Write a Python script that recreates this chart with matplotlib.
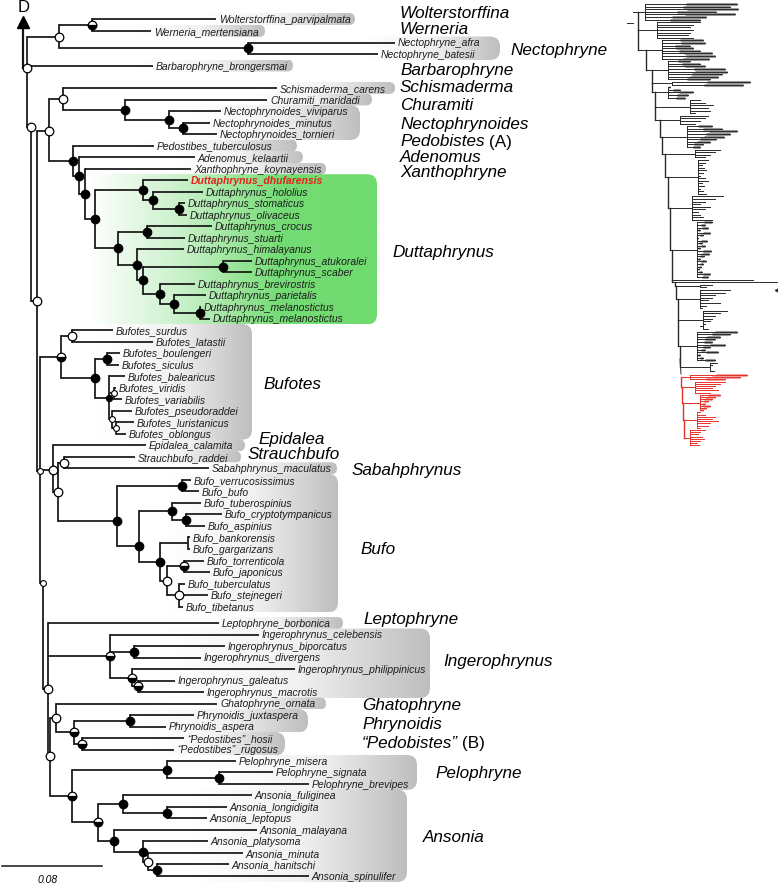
import numpy as np
import matplotlib
matplotlib.use("Agg")
import matplotlib.pyplot as plt
from matplotlib.patches import FancyBboxPatch
from matplotlib.colors import LinearSegmentedColormap

plt.rcParams['font.family'] = ['Liberation Sans', 'DejaVu Sans']

# ---------------- tips (label, row y, branch end x) ----------------
tip_labels = [
    'Wolterstorffina_parvipalmata', 'Werneria_mertensiana', 'Nectophryne_afra',
    'Nectophryne_batesii', 'Barbarophryne_brongersmai', 'Schismaderma_carens',
    'Churamiti_maridadi', 'Nectophrynoides_viviparus', 'Nectophrynoides_minutus',
    'Nectophrynoides_tornieri', 'Pedostibes_tuberculosus', 'Adenomus_kelaartii',
    'Xanthophryne_koynayensis', 'Duttaphrynus_dhufarensis', 'Duttaphrynus_hololius',
    'Duttaphrynus_stomaticus', 'Duttaphrynus_olivaceus', 'Duttaphrynus_crocus',
    'Duttaphrynus_stuarti', 'Duttaphrynus_himalayanus', 'Duttaphrynus_atukoralei',
    'Duttaphrynus_scaber', 'Duttaphrynus_brevirostris', 'Duttaphrynus_parietalis',
    'Duttaphrynus_melanostictus', 'Duttaphrynus_melanostictus#2',
    'Bufotes_surdus', 'Bufotes_latastii', 'Bufotes_boulengeri', 'Bufotes_siculus',
    'Bufotes_balearicus', 'Bufotes_viridis', 'Bufotes_variabilis',
    'Bufotes_pseudoraddei', 'Bufotes_luristanicus', 'Bufotes_oblongus',
    'Epidalea_calamita', 'Strauchbufo_raddei', 'Sabahphrynus_maculatus',
    'Bufo_verrucosissimus', 'Bufo_bufo', 'Bufo_tuberospinius', 'Bufo_cryptotympanicus',
    'Bufo_aspinius', 'Bufo_bankorensis', 'Bufo_gargarizans', 'Bufo_torrenticola',
    'Bufo_japonicus', 'Bufo_tuberculatus', 'Bufo_stejnegeri', 'Bufo_tibetanus',
    'Leptophryne_borbonica', 'Ingerophrynus_celebensis', 'Ingerophrynus_biporcatus',
    'Ingerophrynus_divergens', 'Ingerophrynus_philippinicus', 'Ingerophrynus_galeatus',
    'Ingerophrynus_macrotis', 'Ghatophryne_ornata', 'Phrynoidis_juxtaspera',
    'Phrynoidis_aspera', '\u201cPedostibes\u201d_hosii', '\u201cPedostibes\u201d_rugosus',
    'Pelophryne_misera', 'Pelophryne_signata', 'Pelophryne_brevipes',
    'Ansonia_fuliginea', 'Ansonia_longidigita', 'Ansonia_leptopus', 'Ansonia_malayana',
    'Ansonia_platysoma', 'Ansonia_minuta', 'Ansonia_hanitschi', 'Ansonia_spinulifer',
]
tip_y = [20, 32, 43.5, 55, 66.5, 89, 100.5, 112, 123.6, 135.1, 146.6, 158.1, 169.7,
         181.2, 192.7, 204.2, 215.8, 227.3, 238.8, 250.3, 261.9, 273.4, 284.9, 296.4,
         308, 319.5, 331, 342.5, 354, 365.6, 377.1, 388.6, 400.1, 411.7, 423.2, 434.7,
         446.2, 457.8, 469.3, 480.8, 492.3, 503.8, 515.4, 526.9, 538.4, 549.9, 561.5,
         573, 584.5, 596, 607.5, 624, 635.5, 647, 658.5, 670, 681.5, 693, 704.5, 716,
         727.5, 739, 750.5, 762, 773.5, 785, 796.5, 808, 819.5, 831, 842.5, 854, 865.5,
         877]
tip_x = [216, 151, 395, 378, 153, 277, 267, 221, 210, 217, 154, 195, 191,
         188, 203, 185, 187, 212, 185, 184, 252, 252, 195, 206, 201, 210,
         113, 153, 120, 119, 125, 116, 122, 132, 134, 126,
         146, 135, 209, 191, 199, 201, 222, 205, 190, 190, 204, 210, 185, 208, 183,
         219, 259, 225, 201, 295, 175, 204, 217, 194, 166, 184, 174,
         236, 273, 309, 252, 227, 207, 257, 208, 243, 229, 309]
highlight_tip = 'Duttaphrynus_dhufarensis'

# ---------------- internal nodes: name -> (x, children, support, fixed y) ----------------
nodes = {
    'R':   (23, ['a'], '', 69),
    'a':   (27, ['C1', 'Barbarophryne_brongersmai', 'b'], 'o', 69),
    'b':   (31, ['d'], 'o', 128),
    'd':   (37, ['c', 'e'], 'o', 302),
    'e':   (40, ['BT', 'EP', 'f'], 's', 472),
    'f':   (43, ['g'], 's', 584),
    'g':   (48, ['Leptophryne_borbonica', 'IN', 'h'], 'o', 690),
    'h':   (50, ['GH', 'PA2'], 'o', 757),
    'C1':  (59, ['W1', 'NE'], 'o', None),
    'W1':  (92, ['Wolterstorffina_parvipalmata', 'Werneria_mertensiana'], 'h', None),
    'NE':  (248, ['Nectophryne_afra', 'Nectophryne_batesii'], 'f', None),
    'c':   (49, ['SC', 'PA'], 'o', 132),
    'SC':  (63, ['Schismaderma_carens', 'CN'], 'o', None),
    'CN':  (125, ['Churamiti_maridadi', 'NN'], 'f', None),
    'NN':  (169, ['Nectophrynoides_viviparus', 'NN2'], 'f', None),
    'NN2': (183, ['Nectophrynoides_minutus', 'Nectophrynoides_tornieri'], 'f', None),
    'PA':  (73, ['Pedostibes_tuberculosus', 'AX'], 'f', None),
    'AX':  (79, ['Adenomus_kelaartii', 'XD'], 'f', None),
    'XD':  (85, ['Xanthophryne_koynayensis', 'DU'], 'f', None),
    'DU':  (95, ['D1', 'D2'], 'f', None),
    'D1':  (143, ['Duttaphrynus_dhufarensis', 'D1b'], 'f', None),
    'D1b': (153, ['Duttaphrynus_hololius', 'D1c'], 'f', None),
    'D1c': (179, ['Duttaphrynus_stomaticus', 'Duttaphrynus_olivaceus'], 'f', None),
    'D2':  (118, ['D2a', 'D2b'], 'f', None),
    'D2a': (147, ['Duttaphrynus_crocus', 'Duttaphrynus_stuarti'], 'f', None),
    'D2b': (137, ['Duttaphrynus_himalayanus', 'D2c'], 'f', None),
    'D2c': (143, ['D2d', 'D2e'], 'f', None),
    'D2d': (223, ['Duttaphrynus_atukoralei', 'Duttaphrynus_scaber'], 'f', None),
    'D2e': (160, ['Duttaphrynus_brevirostris', 'D2f'], 'f', None),
    'D2f': (174, ['Duttaphrynus_parietalis', 'D2g'], 'f', None),
    'D2g': (200, ['Duttaphrynus_melanostictus', 'Duttaphrynus_melanostictus#2'], 'f', None),
    'BT':  (61, ['BT1', 'BT2'], 'h', None),
    'BT1': (72, ['Bufotes_surdus', 'Bufotes_latastii'], 'o', None),
    'BT2': (95, ['BT3', 'BT4'], 'f', None),
    'BT3': (107, ['Bufotes_boulengeri', 'Bufotes_siculus'], 'f', None),
    'BT4': (109, ['Bufotes_balearicus', 'BT5', 'BT6'], 'F', None),
    'BT5': (114, ['Bufotes_viridis', 'Bufotes_variabilis'], 's', None),
    'BT6': (112, ['Bufotes_pseudoraddei', 'BT7'], 's', None),
    'BT7': (116, ['Bufotes_luristanicus', 'Bufotes_oblongus'], 's', None),
    'EP':  (53, ['Epidalea_calamita', 'EB'], 'o', 471),
    'EB':  (58, ['SS', 'BU'], 'o', 493),
    'SS':  (64, ['Strauchbufo_raddei', 'Sabahphrynus_maculatus'], 'o', None),
    'BU':  (117, ['B1', 'B2'], 'f', 522),
    'B1':  (182, ['Bufo_verrucosissimus', 'Bufo_bufo'], 'f', None),
    'B2':  (139, ['B3', 'B4'], 'f', 547),
    'B3':  (172, ['Bufo_tuberospinius', 'B5'], 'f', None),
    'B5':  (186, ['Bufo_cryptotympanicus', 'Bufo_aspinius'], 'f', None),
    'B4':  (160, ['B6', 'B7'], 'f', None),
    'B6':  (188, ['Bufo_bankorensis', 'Bufo_gargarizans'], '', None),
    'B7':  (167, ['B8', 'B9'], 'o', None),
    'B8':  (184, ['Bufo_torrenticola', 'Bufo_japonicus'], 'h', None),
    'B9':  (179, ['Bufo_tuberculatus', 'Bufo_stejnegeri', 'Bufo_tibetanus'], 'o', None),
    'IN':  (110, ['Ingerophrynus_celebensis', 'I1', 'I2'], 'h', None),
    'I1':  (134, ['Ingerophrynus_biporcatus', 'Ingerophrynus_divergens'], 'f', None),
    'I2':  (132, ['Ingerophrynus_philippinicus', 'I3'], 'h', None),
    'I3':  (138, ['Ingerophrynus_galeatus', 'Ingerophrynus_macrotis'], 'h', None),
    'GH':  (56, ['Ghatophryne_ornata', 'G1'], 'o', None),
    'G1':  (74, ['PH', 'PB'], 'h', None),
    'PH':  (130, ['Phrynoidis_juxtaspera', 'Phrynoidis_aspera'], 'f', None),
    'PB':  (82, ['\u201cPedostibes\u201d_hosii', '\u201cPedostibes\u201d_rugosus'], 'h', None),
    'PA2': (72, ['PE', 'AN'], 'h', None),
    'PE':  (167, ['Pelophryne_misera', 'PE2'], 'f', None),
    'PE2': (219, ['Pelophryne_signata', 'Pelophryne_brevipes'], 'f', None),
    'AN':  (98, ['A1', 'A3'], 'h', None),
    'A1':  (123, ['Ansonia_fuliginea', 'A2'], 'f', None),
    'A2':  (167, ['Ansonia_longidigita', 'Ansonia_leptopus'], 'f', None),
    'A3':  (114, ['Ansonia_malayana', 'A4'], 'f', None),
    'A4':  (143, ['Ansonia_platysoma', 'A5'], 'f', None),
    'A5':  (148, ['Ansonia_minuta', 'A6'], 'o', None),
    'A6':  (157, ['Ansonia_hanitschi', 'Ansonia_spinulifer'], 'f', None),
}

# ---------------- genus groups: first tip, last tip, box right edge ----------------
group_names = ['Wolterstorffina', 'Werneria', 'Nectophryne', 'Barbarophryne', 'Schismaderma',
               'Churamiti', 'Nectophrynoides', 'Pedobistes', 'Adenomus', 'Xanthophryne',
               'Duttaphrynus', 'Bufotes', 'Epidalea', 'Strauchbufo', 'Sabahphrynus', 'Bufo',
               'Leptophryne', 'Ingerophrynus', 'Ghatophryne', 'Phrynoidis',
               '\u201cPedobistes\u201d', 'Pelophryne', 'Ansonia']
group_suffix = ['', '', '', '', '', '', '', '(A)', '', '', '', '', '', '', '', '',
                '', '', '', '', '(B)', '', '']
group_first = [0, 1, 2, 4, 5, 6, 7, 10, 11, 12, 13, 26, 36, 37, 38, 39, 51, 52, 58, 59, 61, 63, 66]
group_last = [0, 1, 3, 4, 5, 6, 9, 10, 11, 12, 25, 35, 36, 37, 38, 50, 51, 57, 58, 60, 62, 65, 73]
group_box_right = [355, 265, 500, 293, 395, 372, 360, 297, 303, 326, 377, 252, 245, 241,
                   337, 338, 343, 430, 326, 308, 285, 417, 407]
group_label_x = [400, 400, 510, 400, 400, 400, 400, 400, 400, 400, 392, 263, 258, 248,
                 352, 360, 363, 443, 362, 362, 362, 435, 423]
group_label_y = [14, 30, 50, 71, 88, 106, 125, 142, 157, 173, 253, 385, 440, 455,
                 471, 550, 620, 662, 706, 725, 744, 774, 838]

# ---------------- overview tree (right): stem x, node x, tip ends, highlight ----------------
mini_stem = [633, 638, 638, 646, 652, 652, 655, 655, 660, 662, 665, 668, 670, 672, 672,
             675, 676, 678, 678, 680]
mini_node = [645, 657, 662, 668, 672, 668, 690, 680, 687, 695, 698, 692, 697, 680, 690,
             700, 700, 703, 697, 710]
mini_tips = [
    [737, 730, 738, 716, 735, 706, 700],
    [700, 693, 690, 693, 690, 688, 693],
    [703, 705, 690, 693, 700, 712, 715, 709],
    [690, 700, 705, 725, 727, 722, 718, 710],
    [750, 743],
    [670, 680, 693, 688, 685],
    [700, 705, 713, 708, 710, 695],
    [708, 705, 700, 695],
    [712, 722, 737, 730, 724, 716, 710, 703, 700],
    [720, 715, 710, 705],
    [708, 705, 702, 704, 706, 703, 700, 705, 708, 702, 704, 700, 703, 706],
    [723, 715, 705, 700, 710, 705, 698, 700, 703, 712],
    [712, 705, 708, 700, 710, 703, 698, 707, 702, 705, 700, 711, 709, 704, 700, 706,
     703, 701, 699, 702, 710, 708],
    [753],
    [777],
    [712, 706],
    [730, 725, 715, 712, 708, 720, 706, 702],
    [727, 720, 715, 712, 710, 705, 700, 708],
    [737, 730, 720, 715, 712, 725, 710, 705, 718, 700, 703, 715],
    [717, 712, 710, 714],
]
mini_hl = [1, 0, 1, 1, 1, 1, 0, 0, 1, 0, 0, 0, 1, 0, 0, 0, 0, 0, 1, 0]
red_stem = [681, 681, 682, 683, 684]
red_node = [690, 695, 700, 697, 690]
red_tips = [
    [747, 740, 725],
    [725, 720, 715, 712, 718, 710],
    [720, 715, 712, 708, 705, 710, 706, 703],
    [700, 705, 715, 712, 718, 710, 708, 700],
    [705, 700, 698, 702, 704, 700, 697, 699],
]
red_hl = [1, 0, 1, 0, 0]

scale_value = 0.08
px_per_unit = 1250

# ---------------- figure ----------------
fig = plt.figure(figsize=(7.78, 8.87), dpi=100)
ax = fig.add_axes([0, 0, 1, 1])
LC = '#151515'
LW = 1.25

tip_pos = {lab: (x, y) for lab, x, y in zip(tip_labels, tip_x, tip_y)}
node_pos = {}


def node_y(name):
    if name in tip_pos:
        return tip_pos[name][1]
    if name in node_pos:
        return node_pos[name][1]
    x, children, _, fixed = nodes[name]
    ys = [node_y(c) for c in children]
    y = fixed if fixed is not None else (min(ys) + max(ys)) / 2
    node_pos[name] = (x, y)
    return y


for n in nodes:
    node_y(n)

# branches
for n, (x, children, sup, _) in nodes.items():
    y = node_pos[n][1]
    cys = [node_y(c) for c in children]
    ax.plot([x, x], [min(cys + [y]), max(cys + [y])], color=LC, lw=LW,
            solid_capstyle='projecting', zorder=3)
    for c in children:
        cx = tip_pos[c][0] if c in tip_pos else node_pos[c][0]
        ax.plot([x, cx], [node_y(c)] * 2, color=LC, lw=LW, solid_capstyle='butt', zorder=3)

# root arrow
rx, ry = node_pos['R']
ax.plot([rx, rx], [ry, 24], color=LC, lw=1.6, zorder=3)
ax.plot(rx, 23, marker='^', ms=9, color='black', zorder=4)
ax.text(rx + 1, 8, 'D', fontsize=12, ha='center', va='center')

# support markers
for n, (x, children, sup, _) in nodes.items():
    y = node_pos[n][1]
    if sup == 'f':
        ax.plot(x, y, 'o', ms=6.2, mfc='black', mec='black', mew=0.8, zorder=6)
    elif sup == 'F':
        ax.plot(x, y, 'o', ms=4.5, mfc='black', mec='black', mew=0.8, zorder=6)
    elif sup == 'o':
        ax.plot(x, y, 'o', ms=6.2, mfc='white', mec='black', mew=0.9, zorder=6)
    elif sup == 's':
        ax.plot(x, y, 'o', ms=4.2, mfc='white', mec='black', mew=0.8, zorder=6)
    elif sup == 'h':
        ax.plot(x, y, 'o', ms=6.2, fillstyle='bottom', mfc='black', mfcalt='white',
                mec='black', mew=0.9, zorder=6)

# tip labels
for lab, x, y in zip(tip_labels, tip_x, tip_y):
    txt = lab.split('#')[0]
    if lab == highlight_tip:
        ax.text(x + 3, y, txt, fontsize=7.5, style='italic', weight='bold',
                color='#e2231a', va='center', zorder=7)
    else:
        ax.text(x + 3, y, txt, fontsize=7.5, style='italic', color='#1e1e1e',
                va='center', zorder=7)

# genus boxes
gray_cmap = LinearSegmentedColormap.from_list('g', ['#ffffff', '#f2f2f2', '#bebebe'])
green_cmap = LinearSegmentedColormap.from_list('gr', ['#ffffff', '#c6f0c6', '#74dc74', '#6fdb6f'])
for i, name in enumerate(group_names):
    y0 = tip_y[group_first[i]] - 6
    y1 = tip_y[group_last[i]] + 6
    x1 = group_box_right[i]
    green = name == 'Duttaphrynus'
    x0 = 90 if green else min(tip_x[group_first[i]:group_last[i] + 1]) - 15
    r = min(10, (y1 - y0) / 2)
    grad = np.linspace(0, 1, 256)[None, :]
    im = ax.imshow(grad, extent=(x0, x1, y1, y0), cmap=green_cmap if green else gray_cmap,
                   vmin=0, vmax=1, aspect='auto', zorder=0.5, interpolation='bilinear')
    box = FancyBboxPatch((x0, y0), x1 - x0, y1 - y0,
                         boxstyle='round,pad=0,rounding_size=%g' % r,
                         facecolor='none', edgecolor='none', transform=ax.transData)
    ax.add_patch(box)
    im.set_clip_path(box)

    t = ax.text(group_label_x[i], group_label_y[i], name, fontsize=12.3, style='italic',
                va='center', zorder=7)
    if group_suffix[i]:
        ax.annotate(group_suffix[i], xy=(1, 0.5), xycoords=t, xytext=(3, 0),
                    textcoords='offset points', fontsize=12.3, va='center')

# scale bar
ax.plot([2, 2 + scale_value * px_per_unit], [867, 867], color=LC, lw=1.1)
ax.text(2 + scale_value * px_per_unit / 2 - 4, 880, '%.2f' % scale_value, fontsize=7.5,
        style='italic', ha='center', va='center')

# overview tree
MLW = 0.7


def draw_mini(stems, nodes_x, tips, hls, y_start, pitch, color, hl_color):
    row = 0
    prev = None
    for sx, nx, ends, hl in zip(stems, nodes_x, tips, hls):
        ys = [y_start + pitch * (row + k) for k in range(len(ends))]
        row += len(ends)
        ny = (ys[0] + ys[-1]) / 2
        for yy, ex in zip(ys, ends):
            if hl:
                ax.plot([nx + (ex - nx) * 0.45, ex], [yy, yy], color=hl_color, lw=2.2,
                        solid_capstyle='butt', zorder=1)
            ax.plot([nx, ex], [yy, yy], color=color, lw=MLW, zorder=2)
        ax.plot([nx, nx], [ys[0], ys[-1]], color=color, lw=MLW, zorder=2)
        ax.plot([sx, nx], [ny, ny], color=color, lw=MLW, zorder=2)
        if prev is not None:
            ax.plot([sx, sx], [prev[1], ny], color=color, lw=MLW + 0.3, zorder=2)
            ax.plot([prev[0], sx], [prev[1], prev[1]], color=color, lw=MLW, zorder=2)
        prev = (sx, ny)
    return prev


draw_mini(mini_stem, mini_node, mini_tips, mini_hl, 5, 2.6, '#2a2a2a', '#9a9a9a')
ax.plot([627, 633], [24, 24], color='#2a2a2a', lw=MLW)
ax.plot([680, 681], [360, 375], color='#2a2a2a', lw=MLW)
draw_mini(red_stem, red_node, red_tips, red_hl, 376, 2.2, '#e4322b', '#f2a0a0')
ax.plot(777, 291, marker='<', ms=3, color='#2a2a2a')

ax.set_xlim(0, 778)
ax.set_ylim(887, 0)
ax.axis('off')
fig.savefig('out.png', dpi=100)
